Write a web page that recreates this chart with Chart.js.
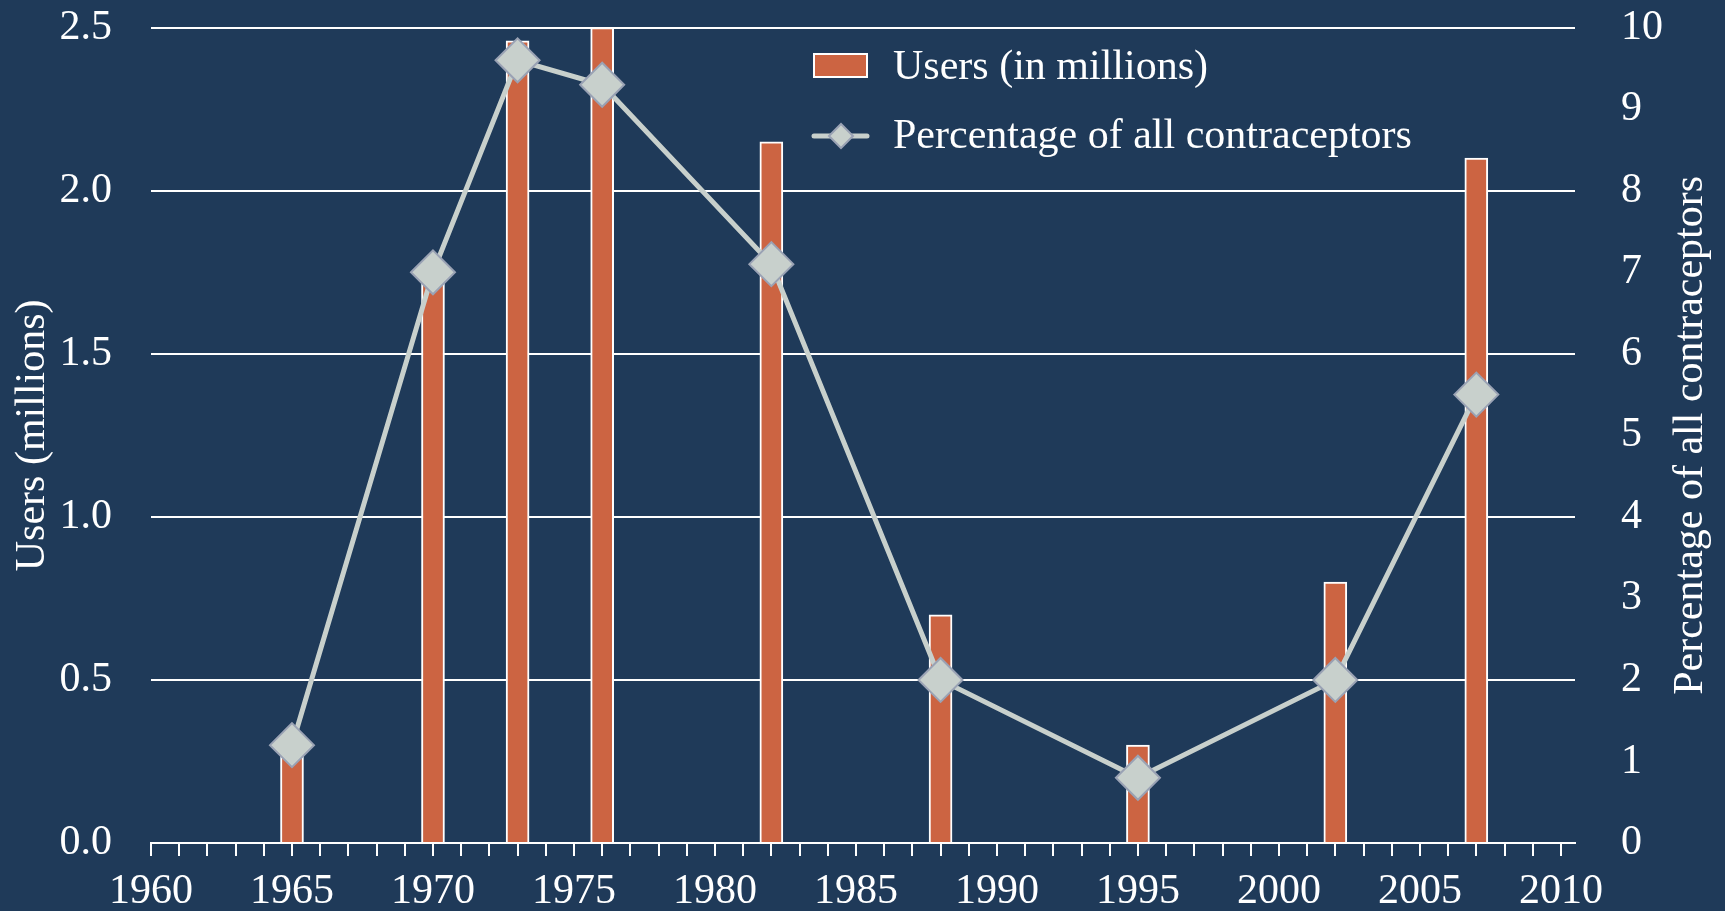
<!DOCTYPE html>
<html>
<head>
<meta charset="utf-8">
<title>Users and share of all contraceptors</title>
<script src="https://cdn.jsdelivr.net/npm/chart.js@4/dist/chart.umd.min.js"></script>
<style>
    html, body { margin: 0; padding: 0; background: #1f3a59; }
    #wrap { width: 1725px; height: 911px; }
</style>
</head>
<body>
<div id="wrap"><canvas id="usersChart" width="1725" height="911"></canvas></div>
<script>
// Survey years and the two series
const years = [1965, 1970, 1973, 1976, 1982, 1988, 1995, 2002, 2007];
const users = [0.3, 1.75, 2.46, 2.5, 2.15, 0.7, 0.3, 0.8, 2.1];
const percentages = [1.2, 7.0, 9.6, 9.3, 7.1, 2.0, 0.8, 2.0, 5.5];

// Axis tick values
const usersTicks = [0, 0.5, 1.0, 1.5, 2.0, 2.5];
const percentTicks = [0, 1, 2, 3, 4, 5, 6, 7, 8, 9, 10];

const usersLabel = 'Users (in millions)';
const percentLabel = 'Percentage of all contraceptors';

const BG = '#1f3a59';
const BAR = '#cc6442';
const LINE = '#c8d0cc';
const MARKER_EDGE = '#9aa2b4';
const FONT = "'Liberation Serif', 'Times New Roman', serif";

Chart.defaults.font.family = FONT;
Chart.defaults.font.size = 42;
Chart.defaults.color = '#ffffff';

// Paint the dark background behind everything
const backgroundPlugin = {
    id: 'background',
    beforeDraw(chart) {
        const ctx = chart.ctx;
        ctx.save();
        ctx.fillStyle = BG;
        ctx.fillRect(0, 0, chart.width, chart.height);
        ctx.restore();
    }
};

// Legend inside the plot plus the right-hand axis title (reads bottom to top)
const overlayPlugin = {
    id: 'overlay',
    afterDraw(chart) {
        const ctx = chart.ctx;
        ctx.save();
        ctx.font = '42px ' + FONT;
        ctx.fillStyle = '#ffffff';
        ctx.textBaseline = 'alphabetic';
        ctx.textAlign = 'left';

        // bar entry
        ctx.fillStyle = BAR;
        ctx.fillRect(814, 54, 53, 23);
        ctx.strokeStyle = '#ffffff';
        ctx.lineWidth = 2;
        ctx.strokeRect(814, 54, 53, 23);
        ctx.fillStyle = '#ffffff';
        ctx.fillText(usersLabel, 893, 79);

        // line entry
        ctx.strokeStyle = LINE;
        ctx.lineWidth = 5;
        ctx.lineCap = 'round';
        ctx.beginPath();
        ctx.moveTo(814, 136);
        ctx.lineTo(867, 136);
        ctx.stroke();
        ctx.beginPath();
        ctx.moveTo(841 - 12, 136);
        ctx.lineTo(841, 136 - 12);
        ctx.lineTo(841 + 12, 136);
        ctx.lineTo(841, 136 + 12);
        ctx.closePath();
        ctx.fillStyle = LINE;
        ctx.fill();
        ctx.strokeStyle = MARKER_EDGE;
        ctx.lineWidth = 2;
        ctx.stroke();
        ctx.fillStyle = '#ffffff';
        ctx.fillText(percentLabel, 893, 148);

        // right axis title
        const area = chart.chartArea;
        ctx.translate(1691, (area.top + area.bottom) / 2);
        ctx.rotate(-Math.PI / 2);
        ctx.textAlign = 'center';
        ctx.textBaseline = 'middle';
        ctx.fillText(percentLabel, 0, 0);
        ctx.restore();
    }
};

// Fixed axis sizes so the plot area lands where it should
function fixVertical(width) {
    return scale => {
        scale.width = width;
        scale.paddingTop = 0;
        scale.paddingBottom = 0;
    };
}

const ctx = document.getElementById('usersChart').getContext('2d');
new Chart(ctx, {
    type: 'bar',
    data: {
        datasets: [
            {
                type: 'line',
                label: percentLabel,
                data: years.map((y, i) => ({ x: y, y: percentages[i] })),
                yAxisID: 'y1',
                order: 0,
                borderColor: LINE,
                borderWidth: 5,
                tension: 0,
                pointStyle: 'rectRot',
                pointRadius: 22,
                pointHoverRadius: 22,
                pointBackgroundColor: LINE,
                pointBorderColor: MARKER_EDGE,
                pointBorderWidth: 2
            },
            {
                type: 'bar',
                label: usersLabel,
                data: years.map((y, i) => ({ x: y, y: users[i] })),
                yAxisID: 'y',
                order: 1,
                backgroundColor: BAR,
                borderColor: '#ffffff',
                borderWidth: 2,
                barThickness: 23
            }
        ]
    },
    options: {
        responsive: false,
        animation: false,
        layout: { padding: { top: 27.7, left: 0, right: 0, bottom: 0 } },
        plugins: {
            legend: { display: false },
            tooltip: { enabled: false }
        },
        scales: {
            x: {
                type: 'linear',
                position: 'bottom',
                min: 1960,
                max: 2010.5,
                offset: false,
                grid: {
                    offset: false,
                    drawOnChartArea: false,
                    drawTicks: true,
                    tickLength: 13,
                    color: '#ffffff',
                    lineWidth: 2
                },
                border: { color: '#ffffff', width: 2 },
                ticks: {
                    stepSize: 1,
                    includeBounds: false,
                    autoSkip: false,
                    maxRotation: 0,
                    padding: 11,
                    callback: v => (v % 5 === 0 ? String(v) : '')
                },
                afterFit: scale => {
                    scale.height = 68;
                    scale.paddingLeft = 0;
                    scale.paddingRight = 0;
                }
            },
            y: {
                position: 'left',
                min: 0,
                max: 2.5,
                afterBuildTicks: scale => {
                    scale.ticks = usersTicks.map(v => ({ value: v }));
                },
                grid: {
                    color: '#ffffff',
                    lineWidth: 2,
                    drawTicks: false
                },
                border: { display: false },
                ticks: {
                    padding: 39,
                    callback: v => v.toFixed(1)
                },
                title: {
                    display: true,
                    text: 'Users (millions)',
                    color: '#ffffff',
                    font: { size: 42 },
                    padding: { top: 8, bottom: 0 }
                },
                afterFit: fixVertical(151)
            },
            y1: {
                position: 'right',
                min: 0,
                max: 10,
                afterBuildTicks: scale => {
                    scale.ticks = percentTicks.map(v => ({ value: v }));
                },
                grid: { display: false },
                border: { display: false },
                ticks: { padding: 38 },
                afterFit: fixVertical(150)
            }
        }
    },
    plugins: [backgroundPlugin, overlayPlugin]
});
</script>
</body>
</html>
